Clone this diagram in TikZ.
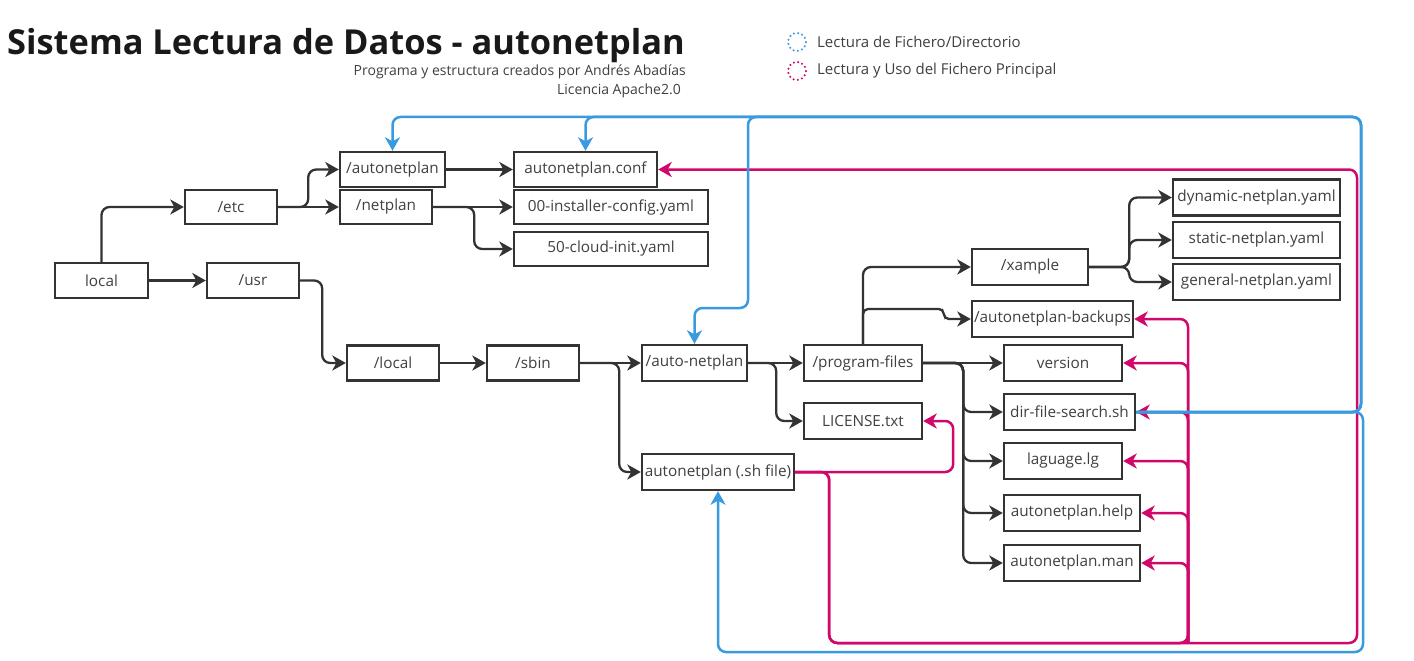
\documentclass[tikz,border=0pt]{standalone}
\usepackage{fontspec}
\setmainfont{Open Sans}
\usetikzlibrary{arrows.meta,calc}
\definecolor{dk}{HTML}{333333}
\definecolor{txt}{HTML}{404040}
\definecolor{bl}{HTML}{3A9AE0}
\definecolor{mg}{HTML}{D1086B}
\begin{document}
\begin{tikzpicture}[x=1bp,y=-1bp,
  box/.style={draw=dk, line width=2.4bp, fill=white, inner sep=0pt, minimum height=35bp, text=txt, font=\fontsize{15.3bp}{18bp}\selectfont},
  rbox/.style={box, minimum height=36bp},
  tip/.style={-{Stealth[length=13.5bp,width=15bp,inset=4bp]}},
  dkline/.style={draw=dk, line width=2.3bp, rounded corners=8bp, tip},
  mgline/.style={draw=mg, line width=2.5bp, rounded corners=8bp, tip},
  blline/.style={draw=bl, line width=2.5bp, rounded corners=8bp, tip},
  legc/.style={circle, line width=2.3bp, dash pattern=on 0bp off 4.3bp, line cap=round, minimum size=18bp, inner sep=0pt},
  legt/.style={anchor=west, text=txt, font=\fontsize{15bp}{18bp}\selectfont, inner sep=0pt}]
\useasboundingbox (0,0) rectangle (1414,661);
\fill[white] (0,0) rectangle (1414,661);

% title and captions
\node[anchor=base west, inner sep=0pt, text=black!90, font=\fontsize{34.4bp}{40bp}\selectfont\bfseries] (title) at (7,55) {Sistema Lectura de Datos - autonetplan};
\node[anchor=base east, inner sep=0pt, text=txt, font=\fontsize{14bp}{16bp}\selectfont] (sub1) at (686,76) {Programa y estructura creados por Andrés Abadías};
\node[anchor=base east, inner sep=0pt, text=txt, font=\fontsize{14bp}{16bp}\selectfont] (sub2) at (681,95) {Licencia Apache2.0};

% legend
\node[legc, draw=bl] (lc1) at (797,42) {};
\node[legt] (lt1) at (817,42) {Lectura de Fichero/Directorio};
\node[legc, draw=mg] (lc2) at (797,71) {};
\node[legt] (lt2) at (817,71) {Lectura y Uso del Fichero Principal};

% boxes
\node[box, minimum width=93bp] (local) at (101.5,280.5) {local};
\node[box, minimum width=92bp] (usr) at (253,280.5) {/usr};
\node[box, minimum width=92bp, minimum height=34bp] (etc) at (231,207) {/etc};
\node[box, minimum width=105bp] (anp) at (392.5,169.5) {/autonetplan};
\node[box, minimum width=92bp, minimum height=34bp] (netplan) at (386,207) {/netplan};
\node[box, minimum width=143bp] (conf) at (585.5,169.5) {autonetplan.conf};
\node[box, minimum width=194bp, minimum height=34bp] (inst) at (611,207) {00-installer-config.yaml};
\node[box, minimum width=194bp, minimum height=34bp] (cloud) at (611,249) {50-cloud-init.yaml};
\node[box, minimum width=92bp] (loc) at (393,363) {/local};
\node[box, minimum width=92bp] (sbin) at (533,363) {/sbin};
\node[rbox, minimum width=105bp] (autonet) at (694.5,363) {/auto-netplan};
\node[rbox, minimum width=118bp] (pf) at (863,363) {/program-files};
\node[rbox, minimum width=118bp] (lic) at (863,421) {LICENSE.txt};
\node[rbox, minimum width=152bp] (sh) at (718,472) {autonetplan (.sh file)};
\node[rbox, minimum width=116bp] (xample) at (1030,267) {/xample};
\node[rbox, minimum width=161bp] (backups) at (1052.5,319) {/autonetplan-backups};
\node[rbox, minimum width=167bp] (dyn) at (1256.5,197.5) {dynamic-netplan.yaml};
\node[rbox, minimum width=167bp] (stat) at (1256.5,240) {static-netplan.yaml};
\node[rbox, minimum width=167bp] (gen) at (1256.5,282) {general-netplan.yaml};
\node[rbox, minimum width=118bp] (version) at (1063,363) {version};
\node[rbox, minimum width=131bp] (dir) at (1069.5,412) {dir-file-search.sh};
\node[rbox, minimum width=118bp] (lang) at (1063,461) {laguage.lg};
\node[rbox, minimum width=136bp] (help) at (1072,513) {autonetplan.help};
\node[rbox, minimum width=136bp] (man) at (1072,563) {autonetplan.man};

% dark connectors
\draw[dkline] (local.north) |- (etc.west);
\draw[dkline] (local) -- (usr);
\draw[dkline] (etc) -- (netplan);
\draw[dkline] (etc.east) -- ++(30,0) |- (anp.west);
\draw[dkline] (anp) -- (conf);
\draw[dkline] (netplan) -- (inst);
\draw[dkline] (netplan.east) -- ++(41,0) |- (cloud.west);
\draw[dkline] (usr.east) -- ++(22,0) |- (loc.west);
\draw[dkline] (loc) -- (sbin);
\draw[dkline] (sbin) -- (autonet);
\draw[dkline] (sbin.east) -- ++(39,0) |- (sh.west);
\draw[dkline] (autonet) -- (pf);
\draw[dkline] (autonet.east) -- ++(28,0) |- (lic.west);
\draw[dkline] (pf.north) |- (xample.west);
\draw[dkline, rounded corners=5bp] (pf.north) |- ($(backups.west)+(-27,-10)$) |- (backups.west);
\draw[dkline] (xample.east) -- ++(40,0) |- (dyn.west);
\draw[dkline] (xample.east) -- ++(40,0) |- (stat.west);
\draw[dkline] (xample.east) -- ++(40,0) |- (gen.west);
\draw[dkline] (pf) -- (version);
\draw[dkline] (pf.east) -- ++(40,0) |- (dir.west);
\draw[dkline] (pf.east) -- ++(40,0) |- (lang.west);
\draw[dkline] (pf.east) -- ++(40,0) |- (help.west);
\draw[dkline] (pf.east) -- ++(40,0) |- (man.west);

% magenta connectors
\coordinate (mb) at (1188,643);
\coordinate (mr) at (1357,643);
\draw[mgline] (sh.east) -| ($(lic.east)+(30,0)$) -- (lic.east);
\draw[mgline] (sh.east) -- ++(34,0) |- (mr) |- (conf.east);
\draw[mgline] (sh.east) -- ++(34,0) |- (mb) |- (backups.east);
\draw[mgline] (mb) |- (version.east);
\draw[mgline] (mb) |- (dir.east);
\draw[mgline] (mb) |- (lang.east);
\draw[mgline] (mb) |- (help.east);
\draw[mgline] (mb) |- (man.east);

% blue connectors
\coordinate (bt) at (1361,117);
\draw[blline] (dir.east) -| (bt) -| (anp.north);
\draw[blline] (dir.east) -| (bt) -| (conf.north);
\draw[blline] (dir.east) -| (bt) -| (748,308) -| (autonet.north);
\draw[blline] (dir.east) -| (1363,652) -| (sh.south);
\end{tikzpicture}
\end{document}
